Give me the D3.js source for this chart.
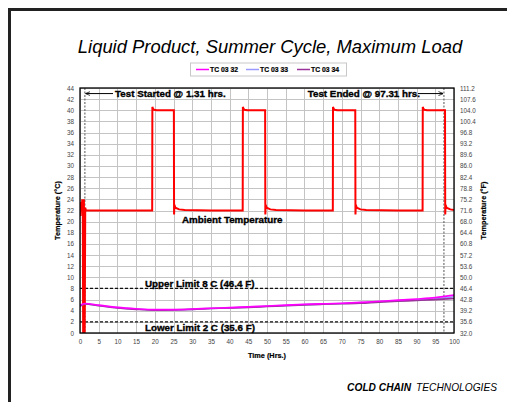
<!DOCTYPE html>
<html>
<head>
<meta charset="UTF-8">
<title>Liquid Product, Summer Cycle, Maximum Load</title>
<script type="text/javascript" src="https://cdn.jsdelivr.net/npm/d3@7"></script>
<style type="text/css">
    body { margin: 0; background: #fff; }
    text { font-family: "Liberation Sans", Arial, sans-serif; }
</style>
</head>
<body>
<div id="chart"></div>
<script type="text/javascript">
    var svgW = 507;
    var svgH = 402;

    // x ticks (hours) and y ticks (deg C / deg F)
    var xTicks = [0, 5, 10, 15, 20, 25, 30, 35, 40, 45, 50, 55, 60, 65, 70, 75, 80, 85, 90, 95, 100];
    var yTicksC = [0, 2, 4, 6, 8, 10, 12, 14, 16, 18, 20, 22, 24, 26, 28, 30, 32, 34, 36, 38, 40, 42, 44];
    var yTicksF = ["32.0", "35.6", "39.2", "42.8", "46.4", "50.0", "53.6", "57.2", "60.8", "64.4", "68.0", "71.6",
        "75.2", "78.8", "82.4", "86.0", "89.6", "93.2", "96.8", "100.4", "104.0", "107.6", "111.2"];

    // ambient chamber temperature (red)
    var ambientTime = [0, 0.15, 0.3, 0.45, 0.6, 0.75, 0.85, 0.95, 1.05, 1.15, 1.25, 1.4, 1.6, 3, 10,
        19.3, 19.35, 19.5, 19.8, 20.5, 25.1, 25.15, 25.25, 25.5, 26.5, 28, 35,
        43.5, 43.55, 43.7, 44, 44.7, 49.5, 49.55, 49.65, 49.9, 50.9, 52.4, 60,
        67.6, 67.65, 67.8, 68.1, 68.8, 73.6, 73.65, 73.75, 74, 75, 76.5, 85,
        91.6, 91.65, 91.8, 92.1, 92.8, 97.6, 97.65, 97.75, 98, 99, 100];
    var ambientTemp = [23, 21, 23.5, 22, 24, 23, -1, -1, 24, -1, -1, 22.5, 22, 22, 22,
        22, 40.6, 40.3, 40.1, 40, 40, 21.3, 23, 22.5, 22.2, 22.1, 22,
        22, 40.6, 40.3, 40.1, 40, 40, 21.3, 23, 22.5, 22.2, 22.1, 22,
        22, 40.6, 40.3, 40.1, 40, 40, 21.3, 23, 22.5, 22.2, 22.1, 22,
        22, 40.6, 40.3, 40.1, 40, 40, 21.3, 23, 22.5, 22.2, 22.1];

    // product thermocouples
    var tcTime = [0, 1.3, 5, 10, 15, 20, 25, 30, 35, 40, 45, 50, 55, 60, 65, 70, 75, 80, 85, 90, 95, 100];
    var tc0332 = [5.0, 5.3, 5.0, 4.6, 4.35, 4.2, 4.2, 4.3, 4.45, 4.55, 4.7, 4.85, 5.0, 5.15, 5.25, 5.35, 5.5, 5.7, 5.9, 6.1, 6.35, 6.8];
    var tc0333 = [4.9, 5.2, 4.95, 4.55, 4.3, 4.15, 4.15, 4.25, 4.4, 4.5, 4.65, 4.8, 4.95, 5.1, 5.2, 5.3, 5.45, 5.6, 5.8, 5.95, 6.15, 6.5];
    var tc0334 = [4.8, 5.2, 4.9, 4.5, 4.25, 4.1, 4.15, 4.25, 4.4, 4.5, 4.6, 4.75, 4.9, 5.05, 5.15, 5.25, 5.35, 5.55, 5.7, 5.85, 6.0, 6.2];

    var seriesNames = ["TC 03 32", "TC 03 33", "TC 03 34"];
    var seriesColors = ["#ff00ff", "#9999ff", "#993399"];

    var testStart = 1.31;
    var testEnd = 97.31;
    var upperLimit = 8;
    var lowerLimit = 2;

    var plotL = 80, plotR = 454, plotT = 88, plotB = 333;

    var x = d3.scaleLinear().domain([0, 100]).range([plotL, plotR]);
    var y = d3.scaleLinear().domain([0, 44]).range([plotB, plotT]);
    var yF = d3.scaleLinear().domain([32, 111.2]).range([plotB, plotT]);

    var svg = d3.select("#chart").append("svg")
            .attr("width", svgW)
            .attr("height", svgH);

    // page frame
    svg.append("path")
            .attr("d", "M9.5," + svgH + "V9.5H" + svgW)
            .attr("fill", "none")
            .attr("stroke", "#222")
            .attr("stroke-width", 3);

    svg.append("text")
            .attr("x", 270)
            .attr("y", 52.5)
            .attr("text-anchor", "middle")
            .style("font-size", "18.4px")
            .style("font-style", "italic")
            .text("Liquid Product, Summer Cycle, Maximum Load");

    // legend
    var leg = svg.append("g");
    leg.append("rect")
            .attr("x", 190.5).attr("y", 63)
            .attr("width", 156).attr("height", 13)
            .attr("fill", "#fff")
            .attr("stroke", "#c8c8c8");
    var legX = [196, 246, 297];
    seriesNames.forEach(function (n, i) {
        leg.append("line")
                .attr("x1", legX[i]).attr("x2", legX[i] + 13)
                .attr("y1", 69.5).attr("y2", 69.5)
                .attr("stroke", seriesColors[i])
                .attr("stroke-width", 1.5);
        leg.append("text")
                .attr("x", legX[i] + 14)
                .attr("y", 72)
                .style("font-size", "6.8px")
                .style("font-weight", "bold")
                .attr("stroke", "#000")
                .attr("stroke-width", 0.2)
                .text(n);
    });

    // grid
    var grid = svg.append("g").attr("stroke", "#c4c4c4").attr("stroke-width", 1);
    grid.selectAll(".gx").data(xTicks).enter().append("line")
            .attr("x1", function (d) { return Math.round(x(d)) + 0.5; })
            .attr("x2", function (d) { return Math.round(x(d)) + 0.5; })
            .attr("y1", plotT).attr("y2", plotB);
    grid.selectAll(".gy").data(yTicksC).enter().append("line")
            .attr("y1", function (d) { return Math.round(y(d)) + 0.5; })
            .attr("y2", function (d) { return Math.round(y(d)) + 0.5; })
            .attr("x1", plotL).attr("x2", plotR);

    // axes
    var axL = svg.append("g")
            .attr("transform", "translate(" + plotL + ",0)")
            .call(d3.axisLeft(y).tickValues(yTicksC).tickSize(0).tickPadding(6));
    var axR = svg.append("g")
            .attr("transform", "translate(" + plotR + ",0)")
            .call(d3.axisRight(yF).tickValues(yTicksF.map(Number)).tickSize(0).tickPadding(6)
                    .tickFormat(function (d, i) { return yTicksF[i]; }));
    var axB = svg.append("g")
            .attr("transform", "translate(0," + plotB + ")")
            .call(d3.axisBottom(x).tickValues(xTicks).tickSize(0).tickPadding(7));
    [axL, axR, axB].forEach(function (a) {
        a.select(".domain").remove();
        a.selectAll("text")
                .style("font-family", "'Liberation Sans', Arial, sans-serif")
                .style("font-size", "6.3px")
                .attr("fill", "#444");
    });

    // clip for data
    svg.append("clipPath").attr("id", "clip")
            .append("rect")
            .attr("x", plotL).attr("y", plotT)
            .attr("width", plotR - plotL).attr("height", plotB - plotT);

    var data = svg.append("g").attr("clip-path", "url(#clip)");

    // limit lines
    [upperLimit, lowerLimit].forEach(function (v) {
        data.append("line")
                .attr("x1", plotL).attr("x2", plotR)
                .attr("y1", y(v)).attr("y2", y(v))
                .attr("stroke", "#111")
                .attr("stroke-width", 1.2)
                .attr("stroke-dasharray", "3,2");
    });

    // test start / end markers
    [testStart, testEnd].forEach(function (t) {
        data.append("line")
                .attr("x1", x(t)).attr("x2", x(t))
                .attr("y1", plotT).attr("y2", plotB)
                .attr("stroke", "#555")
                .attr("stroke-width", 1)
                .attr("stroke-dasharray", "2,1.5");
    });

    var line = d3.line()
            .x(function (d) { return x(d[0]); })
            .y(function (d) { return y(d[1]); });

    data.append("path")
            .datum(ambientTime.map(function (t, i) { return [t, ambientTemp[i]]; }))
            .attr("d", line)
            .attr("fill", "none")
            .attr("stroke", "#ff0000")
            .attr("stroke-width", 2);

    var tcLine = d3.line()
            .curve(d3.curveMonotoneX)
            .x(function (d) { return x(d[0]); })
            .y(function (d) { return y(d[1]); });

    [tc0333, tc0334, tc0332].forEach(function (s, k) {
        var ci = [1, 2, 0][k];
        data.append("path")
                .datum(tcTime.map(function (t, i) { return [t, s[i]]; }))
                .attr("d", tcLine)
                .attr("fill", "none")
                .attr("stroke", seriesColors[ci])
                .attr("stroke-width", 1.6);
    });

    // plot border
    svg.append("rect")
            .attr("x", plotL).attr("y", plotT)
            .attr("width", plotR - plotL).attr("height", plotB - plotT)
            .attr("fill", "none")
            .attr("stroke", "#000")
            .attr("stroke-width", 1.3);

    // annotations
    var defs = svg.append("defs");
    defs.append("marker")
            .attr("id", "arr")
            .attr("viewBox", "0 0 10 10")
            .attr("refX", 9).attr("refY", 5)
            .attr("markerWidth", 5).attr("markerHeight", 5)
            .attr("orient", "auto")
            .append("path")
            .attr("d", "M0,1L10,5L0,9")
            .attr("fill", "none")
            .attr("stroke", "#000")
            .attr("stroke-width", 1.5);

    var ann = svg.append("g")
            .style("font-weight", "bold")
            .style("font-size", "9.8px")
            .attr("stroke", "#000")
            .attr("stroke-width", 0.35);
    ann.append("line")
            .attr("x1", 113).attr("x2", x(testStart) + 1)
            .attr("y1", y(43)).attr("y2", y(43))
            .attr("stroke-width", 1)
            .attr("marker-end", "url(#arr)");
    ann.append("text")
            .attr("x", 115).attr("y", y(43) + 3.5)
            .text("Test Started @ 1.31 hrs.");
    ann.append("line")
            .attr("x1", 418).attr("x2", x(testEnd) - 1)
            .attr("y1", y(43)).attr("y2", y(43))
            .attr("stroke-width", 1)
            .attr("marker-end", "url(#arr)");
    ann.append("text")
            .attr("x", 420).attr("y", y(43) + 3.5)
            .attr("text-anchor", "end")
            .text("Test Ended @ 97.31 hrs.");
    ann.append("text")
            .attr("x", 182).attr("y", y(20.3) + 3.5)
            .text("Ambient Temperature");
    ann.append("text")
            .attr("x", 145).attr("y", y(8) - 1.8)
            .text("Upper Limit 8 C (46.4 F)");
    ann.append("text")
            .attr("x", 145).attr("y", y(0.95) + 3)
            .text("Lower Limit 2 C (35.6 F)");

    // axis titles
    var at = svg.append("g")
            .style("font-weight", "bold")
            .style("font-size", "7.3px")
            .attr("stroke", "#000")
            .attr("stroke-width", 0.2);
    at.append("text")
            .attr("transform", "translate(60," + ((plotT + plotB) / 2) + ") rotate(-90)")
            .attr("text-anchor", "middle")
            .text("Temperature (°C)");
    at.append("text")
            .attr("transform", "translate(486," + ((plotT + plotB) / 2) + ") rotate(-90)")
            .attr("text-anchor", "middle")
            .text("Temperature (°F)");
    at.append("text")
            .attr("x", (plotL + plotR) / 2)
            .attr("y", 358)
            .attr("text-anchor", "middle")
            .text("Time (Hrs.)");

    // company mark
    var logo = svg.append("text")
            .attr("x", 497).attr("y", 391)
            .attr("text-anchor", "end")
            .style("font-family", "'Liberation Sans Narrow', 'Liberation Sans', Arial, sans-serif")
            .style("font-size", "10.2px")
            .style("font-style", "italic");
    logo.append("tspan").style("font-weight", "bold").text("COLD CHAIN");
    logo.append("tspan").attr("dx", 5).text("TECHNOLOGIES");
</script>
</body>
</html>
